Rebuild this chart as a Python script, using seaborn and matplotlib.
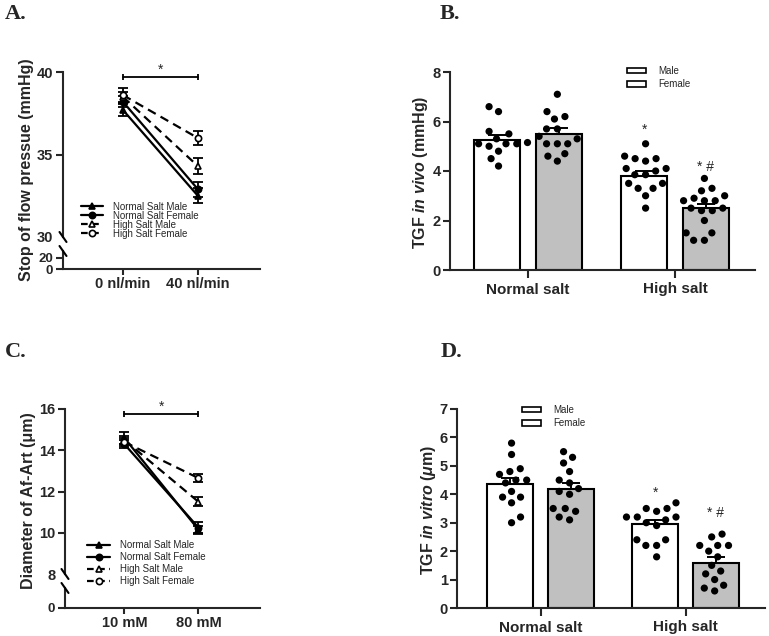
import numpy as np
import pandas as pd
import matplotlib
matplotlib.use("Agg")
import matplotlib.pyplot as plt
import seaborn as sns
from matplotlib.lines import Line2D
from matplotlib.patches import Patch

W, H = 769, 636

groups = ["Normal Salt Male", "Normal Salt Female", "High Salt Male", "High Salt Female"]

# A: stop of flow pressure (mmHg), mean and SEM
flow_levels = ["0 nl/min", "40 nl/min"]
a_nsm = [37.7, 32.5]
a_nsf = [38.2, 32.9]
a_hsm = [38.5, 34.3]
a_hsf = [38.6, 36.0]
a_nsm_sem = [0.35, 0.45]
a_nsf_sem = [0.35, 0.45]
a_hsm_sem = [0.3, 0.5]
a_hsf_sem = [0.45, 0.45]

# C: diameter of afferent arteriole (um), mean and SEM
nacl_levels = ["10 mM", "80 mM"]
c_nsm = [14.6, 10.15]
c_nsf = [14.3, 10.25]
c_hsm = [14.5, 11.5]
c_hsf = [14.4, 12.65]
c_nsm_sem = [0.3, 0.2]
c_nsf_sem = [0.2, 0.25]
c_hsm_sem = [0.2, 0.22]
c_hsf_sem = [0.2, 0.2]

salt_levels = ["Normal salt", "High salt"]
sexes = ["Male", "Female"]

# B: TGF in vivo (mmHg)
b_male_mean = [5.25, 3.8]
b_female_mean = [5.5, 2.5]
b_male_sem = [0.2, 0.18]
b_female_sem = [0.22, 0.17]
b_ns_male = [6.6, 6.4, 5.6, 5.5, 5.3, 5.15, 5.1, 5.1, 5.1, 5.0, 4.8, 4.5, 4.2]
b_ns_female = [7.1, 6.4, 6.2, 6.1, 5.7, 5.7, 5.4, 5.3, 5.1, 5.1, 5.1, 4.7, 4.6, 4.4]
b_hs_male = [5.1, 4.6, 4.5, 4.5, 4.4, 4.1, 4.1, 4.0, 3.85, 3.85, 3.5, 3.5, 3.3, 3.3, 3.0, 2.5]
b_hs_female = [3.7, 3.3, 3.2, 3.0, 2.9, 2.8, 2.8, 2.8, 2.5, 2.5, 2.4, 2.4, 2.0, 1.5, 1.5, 1.2, 1.2]

# D: TGF in vitro (um)
d_male_mean = [4.35, 2.95]
d_female_mean = [4.17, 1.6]
d_male_sem = [0.22, 0.15]
d_female_sem = [0.22, 0.2]
d_ns_male = [5.8, 5.4, 4.9, 4.8, 4.7, 4.5, 4.5, 4.4, 4.1, 3.9, 3.9, 3.7, 3.2, 3.0]
d_ns_female = [5.5, 5.3, 5.1, 4.8, 4.5, 4.4, 4.2, 4.1, 4.0, 3.5, 3.5, 3.4, 3.2, 3.1]
d_hs_male = [3.7, 3.5, 3.5, 3.4, 3.2, 3.2, 3.2, 3.1, 3.0, 2.9, 2.4, 2.4, 2.2, 2.2, 1.8]
d_hs_female = [2.6, 2.5, 2.2, 2.2, 2.2, 2.0, 1.8, 1.5, 1.3, 1.2, 1.0, 0.8, 0.7, 0.6]

sig_marks = ["*", "* #"]

sns.set_style("ticks")
plt.rcParams["font.family"] = ["Liberation Sans", "DejaVu Sans"]
plt.rcParams["font.weight"] = "bold"
plt.rcParams["axes.linewidth"] = 1.5
plt.rcParams["mathtext.fontset"] = "custom"
plt.rcParams["mathtext.rm"] = "Liberation Sans:bold"
plt.rcParams["mathtext.it"] = "Liberation Sans:italic:bold"

fig = plt.figure(figsize=(W / 100, H / 100), dpi=100)


def box(left, top, right, bottom):
    return [left / W, 1 - bottom / H, (right - left) / W, (bottom - top) / H]


def slash(x, y):
    fig.add_artist(Line2D([(x - 3.5) / W, (x + 3.5) / W], [1 - (y - 5) / H, 1 - (y + 5) / H],
                          transform=fig.transFigure, color="black", lw=1.5))


def line_panel(ax_top, ax_bot, levels, means, sems, top_lim, top_ticks, bot_lim, bot_ticks, handle_y, spacing):
    rows = []
    for g, m in zip(groups, means):
        for lev, v in zip(levels, m):
            rows.append({"level": lev, "value": v, "group": g})
    df = pd.DataFrame(rows)
    sns.pointplot(data=df, x="level", y="value", hue="group", order=levels, hue_order=groups,
                  palette=dict.fromkeys(groups, "black"), markers=["^", "o", "^", "o"],
                  linestyles=["-", "-", "--", "--"], errorbar=None, legend=False, ax=ax_top,
                  linewidth=1.6, markersize=4.5, markeredgewidth=1.2)
    for line, g in zip(ax_top.lines, groups):
        if g.startswith("High"):
            line.set_markerfacecolor("white")
            line.set_dashes([4, 2.5])
        line.set_zorder(3)
    for m, s in zip(means, sems):
        ax_top.errorbar(range(len(levels)), m, yerr=s, fmt="none", ecolor="black",
                        elinewidth=1.3, capsize=3.5, capthick=1.3, zorder=2)
    for ax in (ax_top, ax_bot):
        ax.set_xlim(-0.8, 1.83)
        ax.set_xlabel("")
        ax.set_ylabel("")
        ax.spines["top"].set_visible(False)
        ax.spines["right"].set_visible(False)
        ax.tick_params(axis="y", length=5, width=1.5, labelsize=10.5, pad=2)
    ax_top.set_ylim(*top_lim)
    ax_top.set_yticks(top_ticks)
    ax_top.yaxis.get_major_ticks()[0].tick1line.set_visible(False)
    ax_top.spines["bottom"].set_visible(False)
    ax_top.set_xticks([])
    ax_bot.set_ylim(*bot_lim)
    ax_bot.set_yticks(bot_ticks)
    ax_bot.tick_params(axis="y", labelsize=9.5)
    ax_bot.set_xticks(range(len(levels)))
    ax_bot.set_xticklabels(levels)
    ax_bot.tick_params(axis="x", length=4, width=1.5, labelsize=10.5, pad=2)
    ax_bot.set_facecolor("none")
    ax_top.set_facecolor("none")

    # significance bracket
    yb = top_lim[1] - 0.3 * (top_lim[1] - top_lim[0]) / 10
    d = 0.018 * (top_lim[1] - top_lim[0])
    ax_top.plot([0, 1], [yb, yb], color="black", lw=1.3, clip_on=False)
    ax_top.vlines([0, 1], yb - d, yb + d, color="black", lw=1.3, clip_on=False)
    ax_top.text(0.5, yb + 2.3 * d, "*", ha="center", va="center", fontsize=10, fontweight="normal")

    handles = []
    for g, mk in zip(groups, ["^", "o", "^", "o"]):
        hs = g.startswith("High")
        handles.append(Line2D([0], [0], color="black", lw=1.6, marker=mk, markersize=4.5,
                              markeredgewidth=1.2, markerfacecolor="white" if hs else "black",
                              linestyle="--" if hs else "-", dashes=[3, 2] if hs else []))
    ax_top.legend(handles=handles, labels=groups, loc="upper left", bbox_to_anchor=handle_y,
                  frameon=False, prop={"size": 7, "weight": "normal"}, handlelength=2.3,
                  handletextpad=1.0, labelspacing=spacing, borderpad=0, borderaxespad=0)


def bar_panel(ax, male_mean, female_mean, male_sem, female_sem, pts, ylim, xlim, star_y, leg_anchor):
    summ = pd.DataFrame({"salt": salt_levels * 2, "sex": ["Male"] * 2 + ["Female"] * 2,
                         "value": male_mean + female_mean})
    sns.barplot(data=summ, x="salt", y="value", hue="sex", order=salt_levels, hue_order=sexes,
                palette={"Male": "white", "Female": "#c0c0c0"}, edgecolor="black", linewidth=1.5,
                width=0.836, gap=0.246, errorbar=None, legend=False, ax=ax, zorder=1)
    rows = []
    for salt, sex, vals in pts:
        for v in vals:
            rows.append({"salt": salt, "sex": sex, "value": v})
    pdf = pd.DataFrame(rows)
    for cont, sems in zip(ax.containers, [male_sem, female_sem]):
        xs = [p.get_x() + p.get_width() / 2 for p in cont]
        hs = [p.get_height() for p in cont]
        ax.errorbar(xs, hs, yerr=[[0] * len(sems), sems], fmt="none", ecolor="black",
                    elinewidth=1.4, capsize=6.5, capthick=1.4, zorder=2)
    # invisible wide edge spreads the swarm out like the original
    sns.swarmplot(data=pdf, x="salt", y="value", hue="sex", order=salt_levels, hue_order=sexes,
                  palette={"Male": "black", "Female": "black"}, dodge=True, size=5.2,
                  edgecolor="none", linewidth=2.2, legend=False, ax=ax, zorder=3)
    hi = [cont[1] for cont in ax.containers]
    for p, mark, yy in zip(hi, sig_marks, star_y):
        ax.text(p.get_x() + p.get_width() / 2, yy, mark, ha="center", va="center",
                fontsize=10, fontweight="normal")
    ax.set_ylim(*ylim)
    ax.set_xlim(*xlim)
    ax.set_xlabel("")
    ax.set_ylabel("")
    ax.spines["top"].set_visible(False)
    ax.spines["right"].set_visible(False)
    ax.tick_params(axis="y", length=5, width=1.5, labelsize=10.5, pad=1.5)
    ax.tick_params(axis="x", length=6, width=1.5, labelsize=11, pad=3)
    handles = [Patch(facecolor="white", edgecolor="black", linewidth=1.2) for _ in sexes]
    ax.legend(handles=handles, labels=sexes, loc="upper left", bbox_to_anchor=leg_anchor,
              frameon=False, prop={"size": 7, "weight": "normal"}, handlelength=2.0,
              handleheight=0.5, handletextpad=1.2, labelspacing=0.35, borderpad=0, borderaxespad=0)


# panel A
axA = fig.add_axes(box(63, 72, 260, 237))
axA2 = fig.add_axes(box(63, 251, 260, 269))
line_panel(axA, axA2, flow_levels, [a_nsm, a_nsf, a_hsm, a_hsf],
           [a_nsm_sem, a_nsf_sem, a_hsm_sem, a_hsf_sem],
           (30, 40), [30, 35, 40], (0, 32.7), [0, 20], (0.09, 0.215), -0.1)
slash(63, 237)
slash(63, 251)
fig.text(27 / W, 1 - 170 / H, "Stop of flow pressue (mmHg)", rotation=90, ha="center", va="center", fontsize=11.5)

# panel C
axC = fig.add_axes(box(65, 409, 260, 574))
axC2 = fig.add_axes(box(65, 588, 260, 608))
line_panel(axC, axC2, nacl_levels, [c_nsm, c_nsf, c_hsm, c_hsf],
           [c_nsm_sem, c_nsf_sem, c_hsm_sem, c_hsf_sem],
           (8, 16), [8, 10, 12, 14, 16], (0, 1), [0], (0.115, 0.205), 0.2)
slash(65, 574)
slash(65, 588)
fig.text(29 / W, 1 - 501 / H, "Diameter of Af-Art (μm)", rotation=90, ha="center", va="center", fontsize=11.5)

# panel B
axB = fig.add_axes(box(450, 72, 755, 270))
bar_panel(axB, b_male_mean, b_female_mean, b_male_sem, b_female_sem,
          [("Normal salt", "Male", b_ns_male), ("Normal salt", "Female", b_ns_female),
           ("High salt", "Male", b_hs_male), ("High salt", "Female", b_hs_female)],
          (0, 8), (-0.53, 1.544), [5.65, 4.17], (0.58, 1.03))
axB.set_yticks([0, 2, 4, 6, 8])
fig.text(420 / W, 1 - 172 / H, r"TGF $\mathit{in\ vivo}$ (mmHg)", rotation=90, ha="center", va="center", fontsize=11.5)

# panel D
axD = fig.add_axes(box(457, 409, 765, 608))
bar_panel(axD, d_male_mean, d_female_mean, d_male_sem, d_female_sem,
          [("Normal salt", "Male", d_ns_male), ("Normal salt", "Female", d_ns_female),
           ("High salt", "Male", d_hs_male), ("High salt", "Female", d_hs_female)],
          (0, 7), (-0.576, 1.547), [4.06, 3.35], (0.21, 1.02))
axD.set_yticks(range(8))
fig.text(429 / W, 1 - 510 / H, r"TGF $\mathit{in\ vitro}$ ($\mu$m)", rotation=90, ha="center", va="center", fontsize=11.5)

for lab, x, y in [("A.", 5, 14), ("B.", 440, 14), ("C.", 5, 352), ("D.", 441, 352)]:
    fig.text(x / W, 1 - y / H, lab, ha="left", va="center", fontsize=16, fontweight="bold",
             family="Liberation Serif")

fig.savefig("out.png", dpi=100)
